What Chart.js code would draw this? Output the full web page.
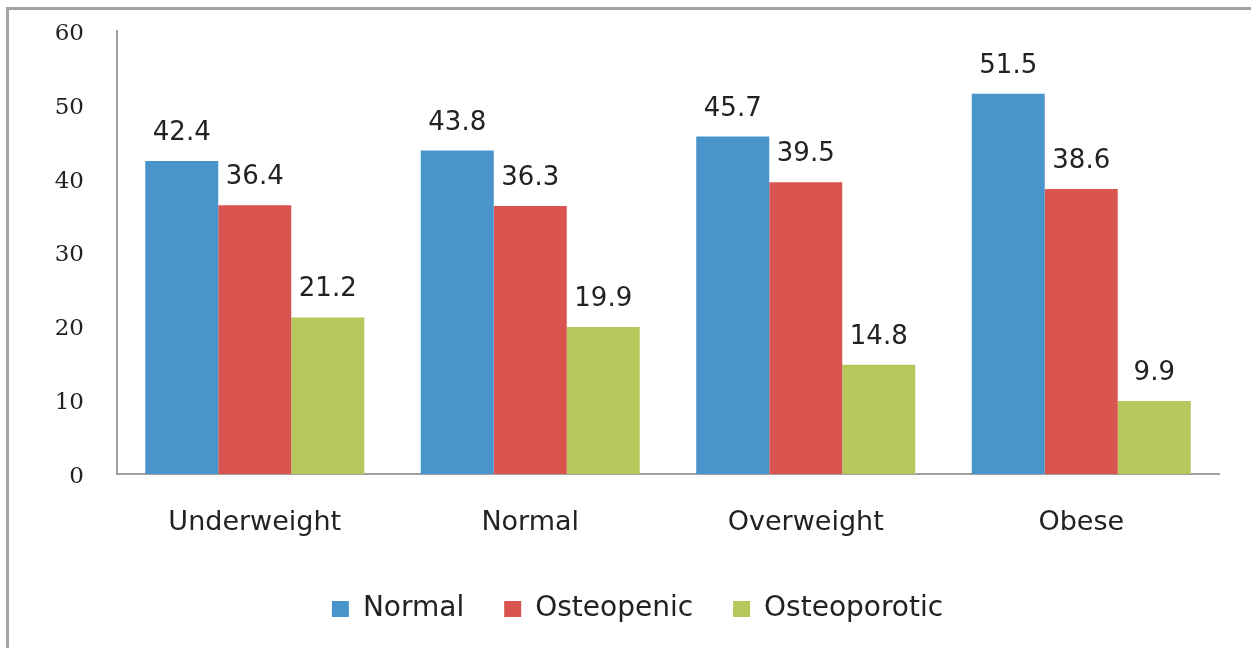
<!DOCTYPE html>
<html>
<head>
<meta charset="utf-8">
<script src="https://cdn.jsdelivr.net/npm/chart.js@4.4.1/dist/chart.umd.min.js"></script>
<style>
  html, body { margin: 0; padding: 0; background: #fff; }
  #wrap { position: relative; width: 1251px; height: 648px; overflow: hidden; }
  #frame { position: absolute; left: 6px; top: 7px; width: 1260px; height: 700px;
           border-top: 3px solid #a3a3a3; border-left: 3px solid #a3a3a3; box-sizing: border-box; }
  canvas { position: absolute; left: 0; top: 0; }
</style>
</head>
<body>
<div id="wrap">
  <div id="frame"></div>
  <canvas id="c" width="1251" height="648"></canvas>
</div>
<script>
const categories = ["Underweight", "Normal", "Overweight", "Obese"];
const seriesNames = ["Normal", "Osteopenic", "Osteoporotic"];
const normalValues = [42.4, 43.8, 45.7, 51.5];
const osteopenicValues = [36.4, 36.3, 39.5, 38.6];
const osteoporoticValues = [21.2, 19.9, 14.8, 9.9];
const yTicks = [0, 10, 20, 30, 40, 50, 60];
const colors = ["#4a94cc", "#d9544f", "#b6c75c"];

const valueLabels = {
  id: 'valueLabels',
  afterDatasetsDraw(chart) {
    const ctx = chart.ctx;
    ctx.save();
    ctx.font = '26px "DejaVu Sans"';
    ctx.fillStyle = '#222';
    ctx.textAlign = 'center';
    ctx.textBaseline = 'alphabetic';
    chart.data.datasets.forEach((ds, i) => {
      const meta = chart.getDatasetMeta(i);
      meta.data.forEach((bar, j) => {
        ctx.fillText(ds.data[j].toFixed(1), bar.x, bar.y - 21);
      });
    });
    ctx.restore();
  }
};

const legendShift = {
  id: 'legendShift',
  afterLayout(chart) {
    if (chart.legend) { chart.legend.left += 28; chart.legend.right += 28; }
  }
};

new Chart(document.getElementById('c'), {
  type: 'bar',
  data: {
    labels: categories,
    datasets: [
      { label: seriesNames[0], data: normalValues, backgroundColor: colors[0] },
      { label: seriesNames[1], data: osteopenicValues, backgroundColor: colors[1] },
      { label: seriesNames[2], data: osteoporoticValues, backgroundColor: colors[2] }
    ]
  },
  options: {
    responsive: false,
    animation: false,
    devicePixelRatio: 1,
    layout: { padding: { top: 31, right: 32, left: 0, bottom: 15 } },
    datasets: { bar: { barPercentage: 1, categoryPercentage: 0.795 } },
    scales: {
      x: {
        grid: { display: false, drawTicks: false },
        border: { display: true, color: '#a0a0a0', width: 2 },
        ticks: { font: { family: 'DejaVu Sans', size: 27 }, color: '#222', padding: 33 },
        afterFit(scale) { scale.height = 81; }
      },
      y: {
        min: 0, max: 60,
        afterBuildTicks(scale) { scale.ticks = yTicks.map(v => ({ value: v })); },
        grid: { display: false, drawTicks: false },
        border: { display: true, color: '#a0a0a0', width: 2 },
        ticks: { font: { family: 'DejaVu Serif', size: 23 }, color: '#222', padding: 33, labelOffset: 3 },
        afterFit(scale) { scale.width = 117; scale.paddingTop = 0; scale.paddingBottom = 0; }
      }
    },
    plugins: {
      legend: {
        position: 'bottom',
        labels: {
          font: { family: 'DejaVu Sans', size: 28 },
          color: '#222',
          boxWidth: 17, boxHeight: 16,
          padding: 40
        }
      },
      tooltip: { enabled: false }
    }
  },
  plugins: [valueLabels, legendShift]
});
</script>
</body>
</html>
